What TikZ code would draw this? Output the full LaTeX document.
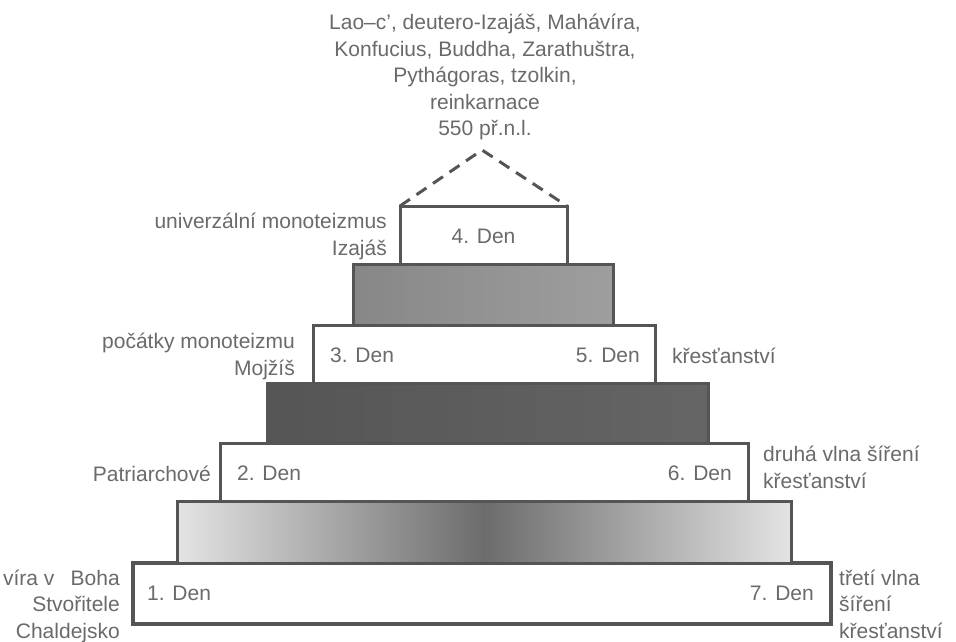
\documentclass[tikz,border=0pt]{standalone}
\usepackage{fontspec}
\setmainfont{Liberation Sans}
\definecolor{edge}{HTML}{555555}
\definecolor{txt}{HTML}{6A6A6A}
\definecolor{medA}{HTML}{878787}
\definecolor{medB}{HTML}{9E9E9E}
\definecolor{darkA}{HTML}{555555}
\definecolor{darkB}{HTML}{656565}
\definecolor{lightE}{HTML}{E4E4E4}
\definecolor{lightM}{HTML}{6C6C6C}
\tikzset{
  layer/.style={draw=edge, line width=3pt, inner sep=0pt, outer sep=0pt, rectangle},
  whitebox/.style={layer, fill=white},
  lbl/.style={text=txt, inner sep=0pt, font=\fontsize{21}{26.5}\selectfont},
  roof/.style={draw=edge, line width=3pt, dash pattern=on 12pt off 8pt}
}
\begin{document}
\begin{tikzpicture}[x=1pt,y=-1pt]
\useasboundingbox (0,0) rectangle (956,642);
% layers, bottom to top
\node[whitebox, line width=4.5pt, minimum width=698pt, minimum height=61pt] (d1) at (482,593.5) {};
\node[layer, left color=lightE, right color=lightE, middle color=lightM, minimum width=614pt, minimum height=62pt] (g1) at (484,532) {};
\node[whitebox, minimum width=528pt, minimum height=58pt] (d2) at (484,472) {};
\node[layer, left color=darkA, right color=darkB, minimum width=441pt, minimum height=60pt] (g2) at (487.5,413) {};
\node[whitebox, minimum width=342pt, minimum height=58pt] (d3) at (484,354) {};
\node[layer, left color=medA, right color=medB, minimum width=260pt, minimum height=61pt] (g3) at (483,294.5) {};
\node[whitebox, minimum width=167pt, minimum height=58pt] (d4) at (483.5,235) {};
% dashed roof
\coordinate (apex) at (482,150);
\draw[roof] (d4.north west) -- (apex) -- (d4.north east);
% day labels
\node[lbl, anchor=base] (t4) at (483.5,243) {4. Den};
\node[lbl, anchor=base west] (t3) at (330,362) {3. Den};
\node[lbl, anchor=base east] (t5) at (640,362) {5. Den};
\node[lbl, anchor=base west] (t2) at (237,480) {2. Den};
\node[lbl, anchor=base east] (t6) at (732,480) {6. Den};
\node[lbl, anchor=base west] (t1) at (147,600) {1. Den};
\node[lbl, anchor=base east] (t7) at (814,600) {7. Den};
% top text (anchor base = baseline of last line)
\node[lbl, anchor=base, align=center] (top) at (485,135.5) {Lao–c’, deutero-Izajáš, Mahávíra,\\Konfucius, Buddha, Zarathuštra,\\Pythágoras, tzolkin,\\reinkarnace\\550 př.n.l.};
% left labels
\node[lbl, anchor=base east, align=right] (l4) at (387,255) {univerzální monoteizmus\\Izajáš};
\node[lbl, anchor=base east, align=right] (l3) at (295,375) {počátky monoteizmu\\Mojžíš};
\node[lbl, anchor=base east, align=right] (l2) at (211,481) {Patriarchové};
\node[lbl, anchor=base east, align=right] (l1) at (120,638) {víra v\hspace{0.5em} Boha\\Stvořitele\\Chaldejsko};
% right labels
\node[lbl, anchor=base west, align=left] (r5) at (672,363) {křesťanství};
\node[lbl, anchor=base west, align=left] (r6) at (763,488) {druhá vlna šíření\\křesťanství};
\node[lbl, anchor=base west, align=left] (r7) at (839,638) {třetí vlna\\šíření\\křesťanství};
\end{tikzpicture}
\end{document}
